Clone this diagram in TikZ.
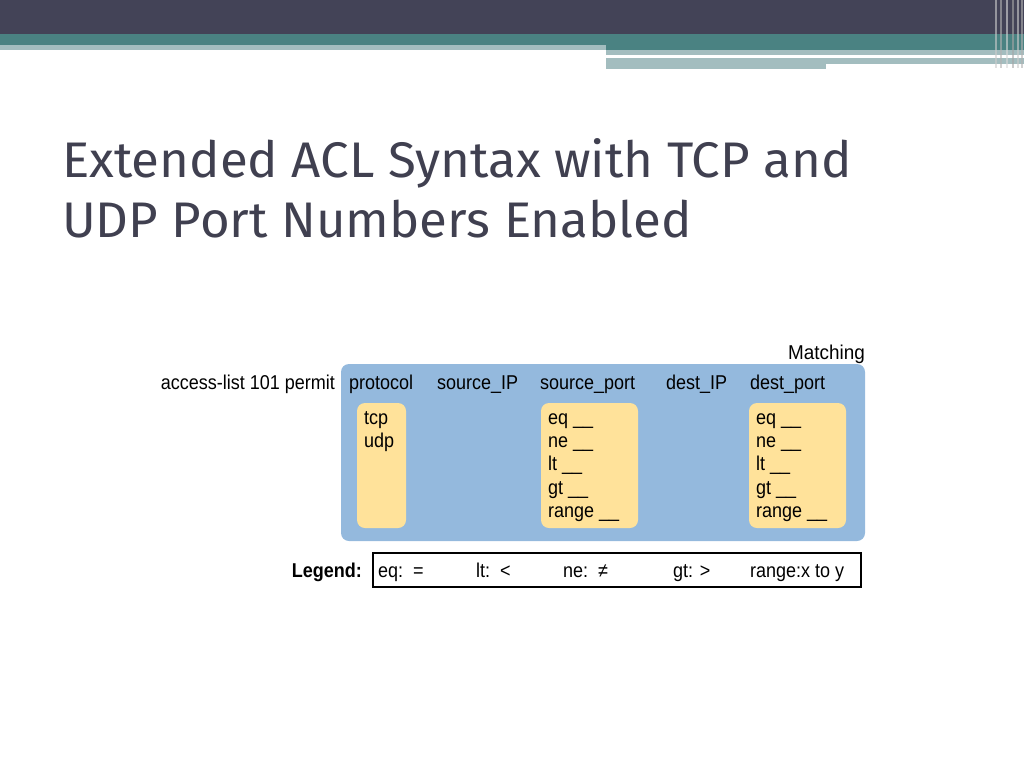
\documentclass[tikz,border=0pt]{standalone}
\usepackage{fontspec}
\setmainfont{Liberation Sans}
\newfontfamily\titlefont{Fira Sans}
\definecolor{dark}{HTML}{434357}
\definecolor{teal}{HTML}{4A8282}
\definecolor{lteal}{HTML}{A3BDBF}
\definecolor{blu}{HTML}{94B9DD}
\definecolor{yel}{HTML}{FFE29A}
\definecolor{ttl}{HTML}{404050}
\tikzset{
 lbl/.style={font=\fontsize{20}{20}\selectfont, inner sep=0pt, anchor=base west, xscale=0.9},
 yb/.style={fill=yel, rounded corners=8pt},
}
\begin{document}
\begin{tikzpicture}[x=1pt,y=-1pt]
\useasboundingbox (0,0) rectangle (1024,768);
% banner
\fill[dark] (0,0) rectangle (1024,34);
\fill[teal] (0,34) rectangle (1024,50);
\fill[lteal] (0,45) rectangle (606,50);
\fill[lteal] (606,50) rectangle (1024,55);
\fill[lteal] (606,58) rectangle (1024,64);
\fill[lteal] (606,64) rectangle (826,69);
\fill[white] (606,55) rectangle (948,58);
\foreach \x/\c in {995/gray!40,1000/gray!60,1006/gray!30,1012/gray!70,1017/gray!40,1021/gray!60}
  \fill[\c, opacity=0.6] (\x,0) rectangle (\x+2,68);
% title
\node[anchor=base west, inner sep=0, text=ttl, xscale=1.02, font=\titlefont\fontsize{50}{50}\selectfont] (t1) at (62,177) {Extended ACL Syntax with TCP and};
\node[anchor=base west, inner sep=0, text=ttl, xscale=1.02, font=\titlefont\fontsize{50}{50}\selectfont] (t2) at (62,237) {UDP Port Numbers Enabled};
% diagram
\fill[blu, rounded corners=8pt] (341,364) rectangle (865,541);
\fill[yb] (357,403) rectangle (406,528);
\fill[yb] (541,403) rectangle (638,528);
\fill[yb] (749,403) rectangle (846,528);
\node[lbl, anchor=base east, xscale=1.05] (m) at (865,359) {Matching};
\node[lbl, anchor=base east] (acl) at (335,389) {access-list 101 permit};
\node[lbl] (p) at (349,389) {protocol};
\node[lbl] (sip) at (437,389) {source\_IP};
\node[lbl] (sp) at (540,389) {source\_port};
\node[lbl] (dip) at (666,389) {dest\_IP};
\node[lbl] (dp) at (750,389) {dest\_port};
\node[lbl] (tcp) at (364,424) {tcp};
\node[lbl] (udp) at (364,447) {udp};
\foreach \x/\n in {548/s,756/d}{
 \node[lbl] (\n1) at (\x,424) {eq \_\_};
 \node[lbl] (\n2) at (\x,447) {ne \_\_};
 \node[lbl] (\n3) at (\x,470) {lt \_\_};
 \node[lbl] (\n4) at (\x,494) {gt \_\_};
 \node[lbl] (\n5) at (\x,517) {range \_\_};
}
\draw[line width=2pt] (373,553) rectangle (861,587);
\node[lbl, anchor=base east, font=\bfseries\fontsize{20}{20}\selectfont] (lg) at (362,577) {Legend:};
\node[lbl] (l1) at (378,577) {eq:\ \ =};
\node[lbl] (l2) at (476,577) {lt:\ \ <};
\node[lbl] (l3) at (563,577) {ne:\ \ ≠};
\node[lbl] (l4) at (673,577) {gt: >};
\node[lbl] (l5) at (750,577) {range:x to y};
\end{tikzpicture}
\end{document}
